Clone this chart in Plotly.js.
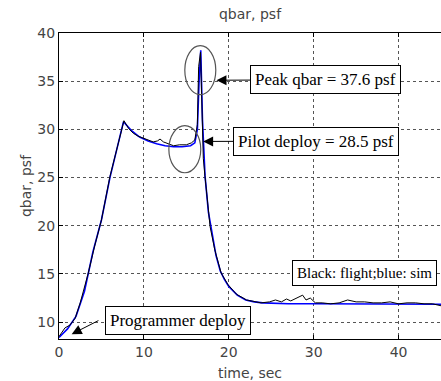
<!DOCTYPE html>
<html>
<head>
<meta charset="utf-8">
<script src="https://cdn.plot.ly/plotly-3.0.1.min.js"></script>
<style>html,body{margin:0;padding:0;background:#fff;}#chart{width:441px;height:381px;}</style>
</head>
<body>
<div id="chart"></div>
<script>
// Flight data (black)
var flightTime = [0, 0.7, 1.3, 1.9, 2.5, 3.0, 3.45, 4.2, 5.0, 6.0, 7.0, 7.65, 8.2, 8.75, 9.3, 9.9, 10.5, 11.1, 11.6, 11.9, 12.3, 12.9, 13.5, 14.2, 15.0, 15.6, 16.0, 16.3, 16.45, 16.67, 16.85, 17.0, 17.2, 17.5, 17.8, 18.35, 19.1, 19.9, 20.9, 22.1, 23.0, 23.8, 24.8, 25.5, 26.2, 26.8, 27.3, 27.8, 28.3, 28.7, 29.1, 29.6, 30.2, 31.0, 32.0, 33.0, 34.0, 35.0, 36.0, 37.0, 38.0, 39.0, 40.0, 41.0, 42.0, 43.0, 44.0, 45];
var flightQbar = [8.5, 9.4, 9.7, 10.4, 12.0, 13.5, 15.1, 17.9, 20.6, 25.1, 28.6, 30.9, 30.1, 29.6, 29.3, 29.1, 28.9, 28.7, 28.8, 29.0, 28.7, 28.5, 28.3, 28.4, 28.4, 28.6, 28.9, 30.5, 36.5, 38.0, 33.0, 27.0, 25.1, 22.3, 19.9, 17.5, 15.1, 13.9, 12.9, 12.3, 12.1, 12.0, 12.1, 12.3, 12.1, 12.4, 12.2, 12.4, 12.6, 12.8, 12.3, 12.5, 12.0, 12.0, 11.9, 12.0, 12.3, 12.1, 12.1, 12.0, 12.0, 12.1, 11.9, 12.0, 12.0, 11.9, 11.9, 11.7];
// Simulation data (blue)
var simTime = [0, 1, 2, 3, 4, 5, 6, 7, 7.6, 8.5, 9.5, 10.5, 11.5, 12.5, 13.5, 14.5, 15.5, 16.0, 16.3, 16.5, 16.7, 16.9, 17.2, 17.6, 18.0, 18.5, 19.0, 19.5, 20, 21, 22, 23, 24, 25, 27, 30, 35, 40, 45];
var simQbar = [8.4, 9.3, 10.6, 13.2, 17.3, 20.6, 25.0, 28.7, 30.8, 29.9, 29.2, 28.8, 28.5, 28.3, 28.2, 28.2, 28.3, 28.6, 30.0, 35.0, 38.2, 31.0, 25.2, 21.4, 19.2, 16.9, 15.3, 14.4, 13.7, 12.8, 12.3, 12.1, 12.0, 11.95, 11.9, 11.9, 11.9, 11.9, 11.85];
var xTicks = [0, 10, 20, 30, 40];
var yTicks = [10, 15, 20, 25, 30, 35, 40];

var sansFont = {family: 'DejaVu Sans, Arial, sans-serif', size: 14, color: '#444'};
var serif = 'Liberation Serif, Times New Roman, serif';

var traces = [
  {x: simTime, y: simQbar, type: 'scatter', mode: 'lines', line: {color: '#0000ff', width: 1.6}, hoverinfo: 'skip'},
  {x: flightTime, y: flightQbar, type: 'scatter', mode: 'lines', line: {color: '#000', width: 1}, hoverinfo: 'skip'}
];

var layout = {
  width: 441, height: 381,
  margin: {l: 59, r: 0, t: 33, b: 42},
  paper_bgcolor: '#fff', plot_bgcolor: '#fff',
  showlegend: false,
  font: sansFont,
  title: {text: 'qbar, psf', font: sansFont, x: 0.5, xref: 'paper', xanchor: 'center', y: 1 - 14/381, yref: 'container', yanchor: 'middle'},
  xaxis: {
    range: [0, 45], tickvals: xTicks, ticktext: xTicks.map(String),
    showgrid: true, gridcolor: '#555', griddash: '3px,3px', gridwidth: 1,
    zeroline: false, showline: true, linecolor: '#000', linewidth: 1, mirror: 'ticks',
    ticks: 'inside', ticklen: 4, tickcolor: '#000', tickfont: sansFont,
    title: {text: 'time, sec', font: sansFont, standoff: 10}
  },
  yaxis: {
    range: [8.25, 40], tickvals: yTicks, ticktext: yTicks.map(String),
    showgrid: true, gridcolor: '#555', griddash: '3px,3px', gridwidth: 1,
    zeroline: false, showline: true, linecolor: '#000', linewidth: 1,
    ticks: 'inside', ticklen: 4, tickcolor: '#000', tickfont: sansFont,
    title: {text: 'qbar, psf', font: sansFont, standoff: 2}
  },
  shapes: [
    {type: 'circle', xref: 'x', yref: 'y', x0: 14.82, x1: 18.47, y0: 33.6, y1: 38.69, line: {color: '#555', width: 1.2}},
    {type: 'circle', xref: 'x', yref: 'y', x0: 12.94, x1: 16.7, y0: 25.5, y1: 30.38, line: {color: '#555', width: 1.2}}
  ],
  annotations: [
    {x: 18.55, y: 35.1, ax: 31.35, ay: 35.15, axref: 'x', ayref: 'y', xref: 'x', yref: 'y',
     text: 'Peak qbar = 37.6 psf', showarrow: true, arrowhead: 2, arrowsize: 2, arrowwidth: 1, arrowcolor: '#000',
     font: {family: serif, size: 17, color: '#000'}, bgcolor: '#fff', bordercolor: '#000', borderwidth: 1, borderpad: 4},
    {x: 16.98, y: 28.75, ax: 30.31, ay: 28.78, axref: 'x', ayref: 'y', xref: 'x', yref: 'y',
     text: 'Pilot deploy = 28.5 psf', showarrow: true, arrowhead: 2, arrowsize: 2, arrowwidth: 1, arrowcolor: '#000',
     font: {family: serif, size: 17, color: '#000'}, bgcolor: '#fff', bordercolor: '#000', borderwidth: 1, borderpad: 4},
    {x: 1.49, y: 8.75, ax: 4.82, ay: 10.24, axref: 'x', ayref: 'y', xref: 'x', yref: 'y',
     text: '', showarrow: true, arrowhead: 2, arrowsize: 2, arrowwidth: 1, arrowcolor: '#000'},
    {x: 14.04, y: 10.16, xref: 'x', yref: 'y', xanchor: 'center', yanchor: 'middle',
     text: 'Programmer deploy', showarrow: false,
     font: {family: serif, size: 17, color: '#000'}, bgcolor: '#fff', bordercolor: '#000', borderwidth: 1, borderpad: 4},
    {x: 35.96, y: 15.14, xref: 'x', yref: 'y', xanchor: 'center', yanchor: 'middle',
     text: 'Black: flight;blue: sim', showarrow: false,
     font: {family: serif, size: 15, color: '#000'}, bgcolor: '#fff', bordercolor: '#000', borderwidth: 1, borderpad: 4}
  ]
};

Plotly.newPlot('chart', traces, layout, {displayModeBar: false, staticPlot: true});
</script>
</body>
</html>
